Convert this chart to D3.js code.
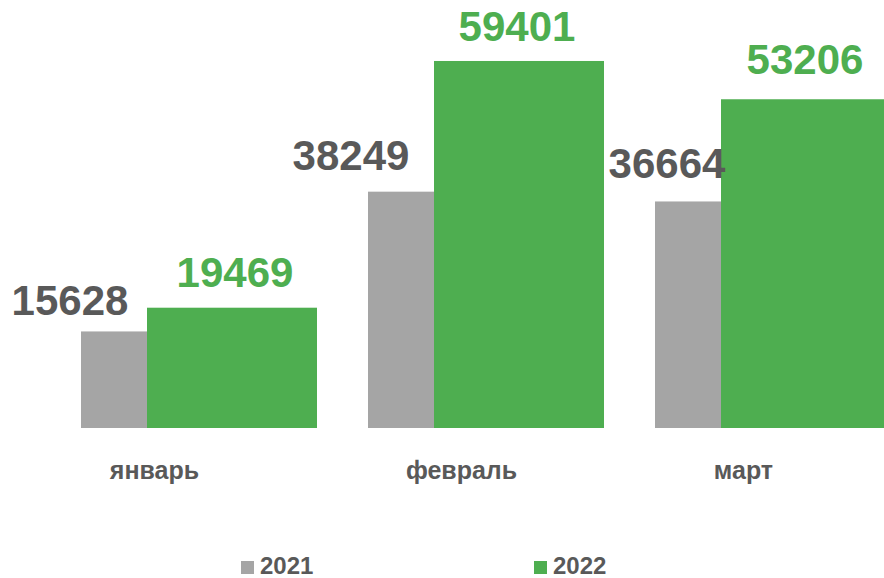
<!DOCTYPE html>
<html>
<head>
<meta charset="utf-8">
<script src="https://cdn.jsdelivr.net/npm/d3@7"></script>
<style>
  html, body { margin: 0; padding: 0; background: #ffffff; }
  svg { display: block; }
  text { font-family: "Liberation Sans", Arial, sans-serif; font-weight: bold; }
</style>
</head>
<body>
<svg id="chart" width="884" height="578"></svg>
<script>
// ---- data ----
const categories = ["январь", "февраль", "март"];
const seriesNames = ["2021", "2022"];
const values2021 = [15628, 38249, 36664];
const values2022 = [19469, 59401, 53206];

// ---- layout (label nudges) ----
const grayLabelDx = [-11, -17, 12];
const grayLabelGap = [16, 22, 23];
const greenLabelDx = [3, -2, -1];
const greenLabelGap = [21, 19.5, 25];
const catLabelDx = [-15, 5, 0];

const colors = { "2021": "#A5A5A5", "2022": "#4EAE50" };
const textGray = "#595959";

const svg = d3.select("#chart");

const x = d3.scaleBand().domain(categories).range([26, 887]).paddingInner(0).paddingOuter(0);
const y = d3.scaleLinear().domain([0, 60000]).range([428, 57.28]);

const barW = 170;
const grayOff = 55;   // gray bar left edge offset inside band
const greenOff = 121; // green bar overlaps gray bar

// gray bars (behind)
svg.append("g").selectAll("rect")
  .data(categories)
  .join("rect")
  .attr("x", c => x(c) + grayOff)
  .attr("y", (c, i) => y(values2021[i]))
  .attr("width", barW)
  .attr("height", (c, i) => y(0) - y(values2021[i]))
  .attr("fill", colors["2021"]);

// green bars
svg.append("g").selectAll("rect")
  .data(categories)
  .join("rect")
  .attr("x", c => x(c) + greenOff)
  .attr("y", (c, i) => y(values2022[i]))
  .attr("width", barW)
  .attr("height", (c, i) => y(0) - y(values2022[i]))
  .attr("fill", colors["2022"]);

// gray value labels
svg.append("g").selectAll("text")
  .data(categories)
  .join("text")
  .attr("x", (c, i) => x(c) + grayOff + grayLabelDx[i])
  .attr("y", (c, i) => y(values2021[i]) - grayLabelGap[i])
  .attr("text-anchor", "middle")
  .attr("font-size", 42)
  .attr("fill", textGray)
  .text((c, i) => values2021[i]);

// green value labels
svg.append("g").selectAll("text")
  .data(categories)
  .join("text")
  .attr("x", (c, i) => x(c) + greenOff + barW / 2 + greenLabelDx[i])
  .attr("y", (c, i) => y(values2022[i]) - greenLabelGap[i])
  .attr("text-anchor", "middle")
  .attr("font-size", 42)
  .attr("fill", colors["2022"])
  .text((c, i) => values2022[i]);

// category labels
svg.append("g").selectAll("text")
  .data(categories)
  .join("text")
  .attr("x", (c, i) => x(c) + x.bandwidth() / 2 + catLabelDx[i])
  .attr("y", 479)
  .attr("text-anchor", "middle")
  .attr("font-size", 25)
  .attr("fill", textGray)
  .text(c => c);

// legend
const legendX = [241, 534];
const legend = svg.append("g").selectAll("g")
  .data(seriesNames)
  .join("g")
  .attr("transform", (d, i) => `translate(${legendX[i]},561)`);
legend.append("rect")
  .attr("width", 13).attr("height", 13)
  .attr("fill", d => colors[d]);
legend.append("text")
  .attr("x", 19).attr("y", 13)
  .attr("font-size", 24)
  .attr("fill", textGray)
  .text(d => d);
</script>
</body>
</html>
